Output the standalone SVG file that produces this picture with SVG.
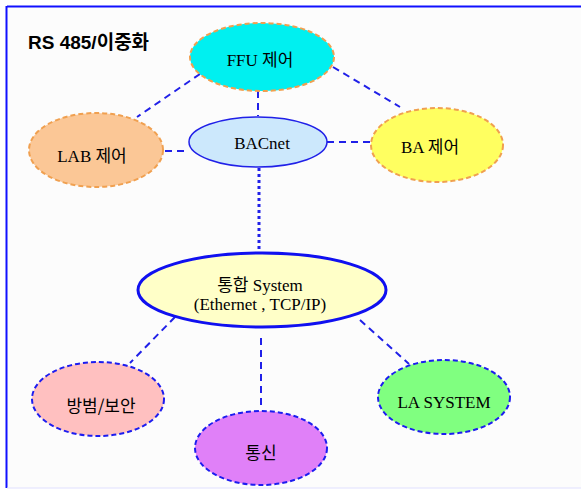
<svg xmlns="http://www.w3.org/2000/svg" width="581" height="489" viewBox="0 0 581 489">
<style>
.bg{fill:#fcfcfc}
.orng{stroke:#f0a050;stroke-width:2;stroke-dasharray:5,3}
.bdash{stroke:#1c1cf0;stroke-width:2;stroke-dasharray:5,3}
.conn{stroke:#2020e8;stroke-width:2;stroke-dasharray:7,5;fill:none}
.dot{stroke:#2020e8;stroke-width:3;stroke-dasharray:3,3;fill:none}
.t{font-family:"Liberation Serif","Noto Sans CJK KR",serif;font-size:17px;fill:#000;text-anchor:middle}
.ts{font-family:"Noto Sans CJK KR","Liberation Sans",sans-serif;font-size:17px;fill:#000;text-anchor:middle}
</style>
<rect x="0" y="0" width="581" height="489" fill="#ffffff"/>
<rect class="bg" x="7" y="7" width="580" height="481"/>
<line x1="7" y1="6.5" x2="581" y2="6.5" stroke="#1010ff" stroke-width="2"/>
<line x1="6.5" y1="6" x2="6.5" y2="488" stroke="#1010ff" stroke-width="2"/>
<line x1="7" y1="488" x2="581" y2="488" stroke="#e0e0ff" stroke-width="1"/>
<text x="28" y="49" font-family="Liberation Sans,'Noto Sans CJK KR',sans-serif" font-size="19" font-weight="bold" fill="#000">RS 485/이중화</text>
<g id="connectors">
<line class="conn" x1="200" y1="74" x2="137" y2="117"/>
<line class="conn" x1="333" y1="67" x2="400" y2="107"/>
<line class="conn" x1="258" y1="91" x2="258" y2="116"/>
<line class="conn" x1="165" y1="151" x2="189" y2="151"/>
<line class="conn" x1="327" y1="142" x2="371" y2="142"/>
<line class="dot" x1="259" y1="168" x2="259" y2="250"/>
<line class="conn" x1="175" y1="317" x2="130" y2="363"/>
<line class="conn" x1="261" y1="338" x2="261" y2="410"/>
<line class="conn" x1="360" y1="320" x2="409" y2="364"/>
</g>
<g id="ffu">
<ellipse cx="262" cy="57" rx="72" ry="34" fill="#00f0f0" class="orng"/>
<text class="t" x="260" y="66">FFU 제어</text>
</g>
<g id="lab">
<ellipse cx="96" cy="150" rx="67" ry="37" fill="#fbc796" class="orng"/>
<text class="t" x="92" y="162">LAB 제어</text>
</g>
<g id="bacnet">
<ellipse cx="258" cy="142" rx="69" ry="25" fill="#cce8fc" stroke="#2020e8" stroke-width="1.5"/>
<text class="t" x="262" y="149">BACnet</text>
</g>
<g id="ba">
<ellipse cx="437" cy="145" rx="66" ry="37" fill="#ffff60" class="orng"/>
<text class="t" x="430" y="153">BA 제어</text>
</g>
<g id="system">
<ellipse cx="262" cy="290" rx="124" ry="37" fill="#ffffc8" stroke="#1010f0" stroke-width="3"/>
<text class="t" x="260" y="291" font-size="15.5">통합 System</text>
<text class="t" x="260" y="310" font-size="15.5">(Ethernet , TCP/IP)</text>
</g>
<g id="security">
<ellipse cx="98" cy="399" rx="66" ry="37" fill="#ffc0c0" class="bdash"/>
<text class="ts" x="101" y="412">방범/보안</text>
</g>
<g id="comm">
<ellipse cx="261" cy="448" rx="66" ry="37" fill="#e080f8" class="bdash"/>
<text class="ts" x="261" y="459">통신</text>
</g>
<g id="la">
<ellipse cx="444" cy="397" rx="66" ry="37" fill="#80ff80" class="bdash"/>
<text class="t" x="444" y="408">LA SYSTEM</text>
</g>
</svg>
